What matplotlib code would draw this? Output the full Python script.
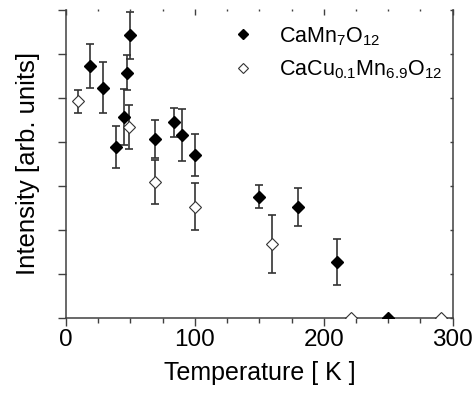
import matplotlib.pyplot as plt
from matplotlib.lines import Line2D
import numpy as np

plt.rcParams['font.family'] = ['Liberation Sans', 'DejaVu Sans']
plt.rcParams['mathtext.fontset'] = 'custom'
plt.rcParams['mathtext.rm'] = 'Liberation Sans'
plt.rcParams['mathtext.it'] = 'Liberation Sans'

# CaMn7O12 (filled diamonds)
t_mn = [19, 29, 39, 45, 47.5, 49.5, 69, 84, 90, 100, 150, 180, 210, 250]
i_mn = [5.71, 5.22, 3.87, 4.56, 5.56, 6.41, 4.06, 4.44, 4.15, 3.70, 2.75, 2.52, 1.26, 0.0]
e_mn = [0.5, 0.58, 0.48, 0.63, 0.4, 0.53, 0.44, 0.33, 0.6, 0.48, 0.27, 0.43, 0.52, 0.0]

# CaCu0.1Mn6.9O12 (open diamonds)
t_cu = [9, 49, 69, 100, 160, 221, 291]
i_cu = [4.91, 4.32, 3.09, 2.52, 1.67, 0.0, 0.0]
e_cu = [0.26, 0.5, 0.5, 0.53, 0.65, 0.0, 0.0]

label_mn = r'CaMn$_{7}$O$_{12}$'
label_cu = r'CaCu$_{0.1}$Mn$_{6.9}$O$_{12}$'

AX_COL = '#404040'
ERR_COL = '#333333'


def draw_series(ax, t, i, e, filled):
    t, i, e = np.array(t), np.array(i), np.array(e)
    m = e > 0
    ax.errorbar(t[m], i[m], yerr=e[m], fmt='none', ecolor=ERR_COL,
                elinewidth=1.2, capsize=3.2, capthick=1.2, zorder=2)
    if filled:
        ax.plot(t, i, 'D', ms=6.5, color='black', mec='black', zorder=3)
    else:
        ax.plot(t, i, 'D', ms=6.3, mfc='white', mec='#333333', mew=0.8, zorder=3)


fig = plt.figure(figsize=(4.75, 3.98), dpi=100)
ax = fig.add_axes([66 / 475, 1 - 317.5 / 398, (452.7 - 66) / 475, (317.5 - 9.5) / 398])

draw_series(ax, t_mn, i_mn, e_mn, True)
draw_series(ax, t_cu, i_cu, e_cu, False)

ax.set_xlim(0, 300)
ax.set_ylim(0, 7)
ax.set_xticks([0, 100, 200, 300])
ax.set_xticks(np.arange(0, 301, 25), minor=True)
ax.set_yticks(np.arange(0, 8, 1))
ax.set_yticklabels([])
ax.tick_params(axis='x', which='major', direction='out', length=6, width=1,
               color=AX_COL, labelsize=17.5, pad=2.5)
ax.tick_params(axis='x', which='minor', direction='out', length=3.6, width=1, color=AX_COL)
ax.tick_params(axis='y', which='major', direction='out', length=6, width=1, color=AX_COL)
for s in ['left', 'bottom']:
    ax.spines[s].set_color(AX_COL)
    ax.spines[s].set_linewidth(1.1)
ax.spines['top'].set_visible(False)
ax.spines['right'].set_visible(False)

# top ticks pointing in, no spine
top = ax.secondary_xaxis('top')
top.set_xticks([0, 100, 200, 300])
top.set_xticks(np.arange(0, 301, 25), minor=True)
top.tick_params(which='major', direction='in', length=4.5, width=1, color=AX_COL, labeltop=False)
top.tick_params(which='minor', direction='in', length=1.5, width=1, color=AX_COL)
top.spines['top'].set_visible(False)

# right spine with short inward ticks
right = ax.secondary_yaxis('right')
right.set_yticks(np.arange(0, 8, 1))
right.tick_params(direction='in', length=2.5, width=1, color=AX_COL, labelright=False)
right.spines['right'].set_color(AX_COL)
right.spines['right'].set_linewidth(1.1)

ax.set_xlabel('Temperature [ K ]', fontsize=18, labelpad=7)
ax.set_ylabel('Intensity [arb. units]', fontsize=18.5, labelpad=9)

handles = [
    Line2D([], [], ls='none', marker='D', ms=5, color='black'),
    Line2D([], [], ls='none', marker='D', ms=5, mfc='white', mec='#333333', mew=0.8),
]
ax.legend(handles, [label_mn, label_cu], loc='upper left',
          bbox_to_anchor=(232 / 475, 1 - 25 / 398), bbox_transform=fig.transFigure,
          frameon=False, fontsize=15.5, handlelength=1.0, handletextpad=1.2,
          labelspacing=0.5, borderpad=0, borderaxespad=0)

fig.savefig('out.png', dpi=100)
